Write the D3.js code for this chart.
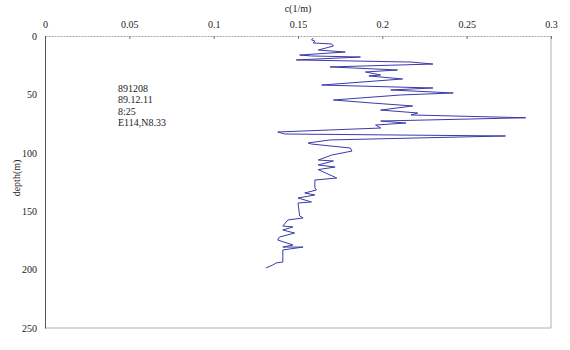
<!DOCTYPE html>
<html>
<head>
<meta charset="utf-8">
<script src="https://cdn.jsdelivr.net/npm/d3@7"></script>
<style>
    body { margin: 0; background: #fff; }
    text { font-family: "Liberation Serif", serif; font-size: 10px; fill: #222; }
</style>
</head>
<body>
<div id="chart"></div>
<script>
// c (1/m) profile against depth
const depths = [1.7, 3.4, 4.3, 6.0, 6.8, 8.6, 12.0, 13.7, 16.3, 17.1, 18.0, 20.5, 22.3, 24.0,
    26.5, 29.1, 30.8, 33.4, 34.2, 36.8, 42.0, 44.5, 46.2, 48.8, 50.5, 54.8, 57.4, 59.9,
    63.4, 65.9, 67.6, 70.0, 72.8, 74.5, 76.2, 78.8, 80.5, 82.2, 83.9, 85.6, 89.0, 91.6,
    92.5, 95.9, 98.5, 101.9, 106.2, 107.0, 110.4, 112.2, 114.4, 121.6, 123.3, 130.1,
    131.8, 134.4, 136.1, 138.7, 142.1, 143.0, 154.1, 155.8, 157.5, 162.7, 163.5, 166.1,
    168.7, 172.1, 174.7, 178.9, 180.7, 180.7, 183.2, 189.2, 193.5, 194.3, 196.1, 198.6];
const cValues = [0.159, 0.158, 0.160, 0.159, 0.170, 0.171, 0.162, 0.178, 0.151, 0.158, 0.187, 0.149, 0.217, 0.230,
    0.169, 0.209, 0.190, 0.199, 0.192, 0.212, 0.164, 0.230, 0.205, 0.242, 0.211, 0.171, 0.194, 0.218,
    0.199, 0.221, 0.217, 0.285, 0.199, 0.214, 0.196, 0.199, 0.168, 0.138, 0.142, 0.273, 0.169, 0.156,
    0.158, 0.181, 0.182, 0.170, 0.162, 0.171, 0.162, 0.172, 0.162, 0.173, 0.160, 0.160,
    0.161, 0.154, 0.160, 0.150, 0.158, 0.150, 0.151, 0.153, 0.144, 0.141, 0.147, 0.141,
    0.148, 0.139, 0.138, 0.147, 0.141, 0.153, 0.141, 0.141, 0.141, 0.137, 0.135, 0.131];

const xTicks = [0, 0.05, 0.1, 0.15, 0.2, 0.25, 0.3];
const yTicks = [0, 50, 100, 150, 200, 250];
const noteLines = ["891208", "89.12.11", "8:25", "E114,N8.33"];

const data = depths.map((d, i) => ({depth: d, c: cValues[i]}));

const width = 570, height = 350;
const margin = {top: 36, right: 19, bottom: 22, left: 45};
const plotWidth = width - margin.left - margin.right;
const plotHeight = height - margin.top - margin.bottom;

const svg = d3.select("#chart").append("svg")
    .attr("width", width)
    .attr("height", height);

const g = svg.append("g")
    .attr("transform", `translate(${margin.left}, ${margin.top})`);

const x = d3.scaleLinear().domain([0, 0.3]).range([0, plotWidth]);
const y = d3.scaleLinear().domain([0, 250]).range([0, plotHeight]);

// frame: right and bottom in light grey
g.append("line")
    .attr("x1", plotWidth).attr("x2", plotWidth)
    .attr("y1", 0).attr("y2", plotHeight)
    .attr("stroke", "#b0b0b0");
g.append("line")
    .attr("x1", 0).attr("x2", plotWidth)
    .attr("y1", plotHeight).attr("y2", plotHeight)
    .attr("stroke", "#b0b0b0");

// top axis
const topAxis = g.append("g")
    .call(d3.axisTop(x).tickValues(xTicks).tickSizeInner(-3).tickSizeOuter(0).tickPadding(8)
        .tickFormat(d => d3.format("")(+d.toFixed(2))));
topAxis.select(".domain").attr("stroke", "#a8a8a8").attr("stroke-dasharray", "2,1");
topAxis.selectAll(".tick line").attr("stroke", "#777");
topAxis.selectAll("text").attr("font-family", null).attr("font-size", null);

// left axis
const leftAxis = g.append("g")
    .call(d3.axisLeft(y).tickValues(yTicks).tickSize(0).tickPadding(8));
leftAxis.select(".domain").attr("stroke", "#555");
leftAxis.selectAll("text").attr("font-family", null).attr("font-size", null);

// profile
g.append("path")
    .datum(data)
    .attr("fill", "none")
    .attr("stroke", "#3a3aa8")
    .attr("stroke-width", 1)
    .attr("d", d3.line()
        .x(d => x(d.c))
        .y(d => y(d.depth)));

// labels
svg.append("text")
    .attr("text-anchor", "middle")
    .attr("x", margin.left + plotWidth / 2)
    .attr("y", 12)
    .text("c(1/m)");

svg.append("text")
    .attr("text-anchor", "middle")
    .attr("transform", "rotate(-90)")
    .attr("x", -178)
    .attr("y", 20)
    .text("depth(m)");

svg.append("g")
    .selectAll("text")
    .data(noteLines)
    .enter()
    .append("text")
    .attr("x", 118)
    .attr("y", (d, i) => 92 + i * 11.3)
    .text(d => d);
</script>
</body>
</html>
